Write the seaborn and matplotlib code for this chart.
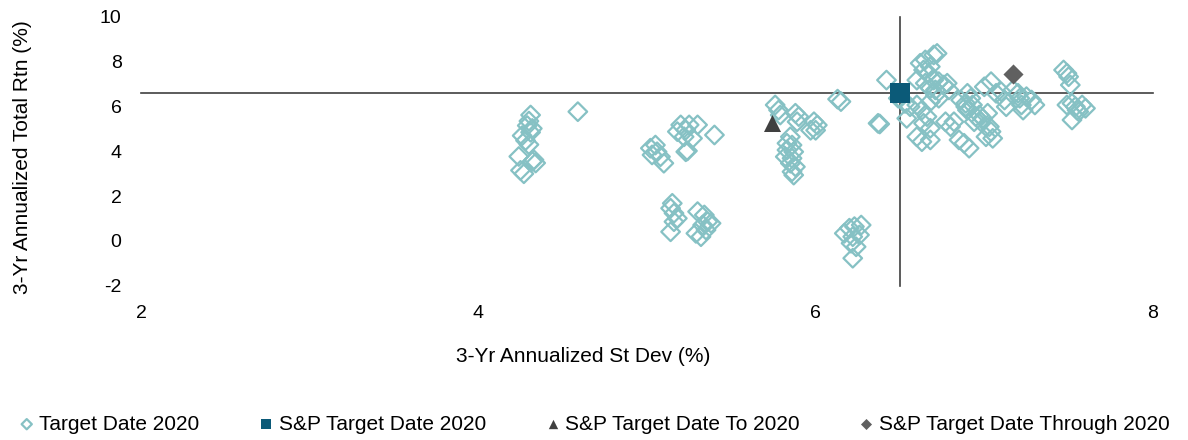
import matplotlib
matplotlib.use("Agg")
import matplotlib.pyplot as plt
import seaborn as sns

# Target Date 2020 funds: 3-yr annualized st dev (%) and total return (%)
td_sd = [4.31, 4.30, 4.29, 4.32, 4.31, 4.26, 4.28, 4.30, 4.24, 4.33, 4.34, 4.32, 4.25, 4.27,
         4.59,
         5.02, 5.05, 5.06, 5.03, 5.08, 5.10, 5.20, 5.25, 5.23, 5.18, 5.22, 5.27, 5.23, 5.24, 5.30, 5.40,
         5.15, 5.14, 5.16, 5.18, 5.16, 5.14, 5.30, 5.34, 5.36, 5.33, 5.29, 5.32, 5.35, 5.38,
         5.76, 5.78, 5.79, 5.88, 5.90, 5.89, 5.99, 6.01, 6.00, 5.97, 5.85, 5.83, 5.86, 5.83, 5.87,
         5.82, 5.86, 5.85, 5.88, 5.86, 5.87,
         6.17, 6.20, 6.23, 6.27, 6.22, 6.26, 6.21, 6.24, 6.22,
         6.13, 6.15, 6.37, 6.38, 6.42,
         6.62, 6.65, 6.70, 6.72, 6.68, 6.64, 6.67,
         6.60, 6.65, 6.70, 6.73, 6.76, 6.68, 6.71, 6.79, 6.78,
         6.49, 6.53, 6.56, 6.60, 6.63, 6.54, 6.66, 6.64, 6.68, 6.60, 6.68, 6.63, 6.77, 6.80, 6.82,
         6.85, 6.88, 6.86, 6.89, 6.93, 6.90, 6.97, 6.94, 6.71, 6.73, 6.68,
         6.90, 6.92, 6.89, 6.95, 6.99, 6.98, 7.02, 7.03, 7.04, 7.05, 7.01, 6.91, 7.00, 7.04, 7.07,
         7.10, 7.12, 7.13, 7.17, 7.20, 7.21, 7.22, 7.25, 7.28, 7.30, 7.23,
         7.47, 7.49, 7.50, 7.51, 7.49, 7.52, 7.54, 7.56, 7.58, 7.52, 7.60, 7.55]
td_ret = [5.62, 5.35, 5.15, 5.02, 4.85, 4.70, 4.48, 4.30, 3.77, 3.62, 3.48, 3.55, 3.15, 3.00,
          5.77,
          4.14, 4.28, 3.98, 3.84, 3.76, 3.47, 5.18, 5.18, 4.95, 4.88, 4.65, 4.58, 3.98, 4.02, 5.18, 4.73,
          1.68, 1.46, 1.24, 1.01, 0.86, 0.41, 1.31, 1.16, 0.86, 0.71, 0.34, 0.19, 0.49, 0.79,
          6.07, 5.84, 5.62, 5.70, 5.55, 5.32, 5.32, 5.17, 4.94, 4.94, 4.65, 4.36, 4.28, 4.06, 3.98,
          3.76, 3.69, 3.47, 3.31, 3.09, 2.94,
          0.34, 0.57, 0.64, 0.71, 0.19, 0.27, -0.10, -0.26, -0.77,
          6.33, 6.22, 5.25, 5.22, 7.18,
          7.93, 8.08, 8.30, 8.37, 7.78, 7.63, 7.48,
          7.18, 7.04, 7.18, 7.11, 6.96, 6.81, 6.74, 6.74, 7.04,
          6.37, 6.14, 5.99, 6.07, 5.84, 5.47, 5.55, 5.25, 5.03, 4.65, 4.51, 4.43, 5.32, 5.10, 5.32,
          4.51, 4.36, 6.29, 6.14, 6.07, 5.84, 5.62, 5.32, 6.51, 6.37, 6.22,
          6.59, 6.37, 5.99, 5.55, 5.47, 5.32, 5.70, 5.10, 4.88, 4.58, 4.65, 4.14, 6.88, 7.11, 6.59,
          6.66, 6.29, 5.99, 6.74, 6.59, 6.37, 6.07, 6.44, 6.29, 6.07, 5.84,
          7.63, 7.48, 7.33, 6.96, 6.07, 6.14, 5.99, 5.77, 6.07, 5.40, 5.92, 5.84]

# benchmarks
sp_sd = [6.50]
sp_ret = [6.59]
sp_to_sd = [5.74]
sp_to_ret = [5.26]
sp_thru_sd = [7.17]
sp_thru_ret = [7.44]

series_names = ["Target Date 2020", "S&P Target Date 2020",
                "S&P Target Date To 2020", "S&P Target Date Through 2020"]
x_ticks = [2, 4, 6, 8]
y_ticks = [-2, 0, 2, 4, 6, 8, 10]

sns.set_style("white")
plt.rcParams['font.family'] = ['Liberation Sans', 'DejaVu Sans']
plt.rcParams['axes.unicode_minus'] = False
plt.rcParams['text.color'] = 'black'
plt.rcParams['axes.labelcolor'] = 'black'
plt.rcParams['xtick.color'] = 'black'
plt.rcParams['ytick.color'] = 'black'

fig = plt.figure(figsize=(11.88, 4.4), dpi=100)
ax = fig.add_axes([0.1187, 0.3505, 0.8518, 0.6111])

sns.scatterplot(x=td_sd, y=td_ret, marker='D', s=90, facecolor='none',
                edgecolor='#86C1C4', linewidth=1.6, label=series_names[0],
                legend=False, zorder=3, ax=ax)
sns.scatterplot(x=sp_sd, y=sp_ret, marker='s', s=190, color='#0B5A78',
                linewidth=0, label=series_names[1], legend=False, zorder=4, ax=ax)
sns.scatterplot(x=sp_to_sd, y=sp_to_ret, marker='^', s=150, color='#404040',
                linewidth=0, label=series_names[2], legend=False, zorder=4, ax=ax)
sns.scatterplot(x=sp_thru_sd, y=sp_thru_ret, marker='D', s=105, color='#606060',
                linewidth=0, label=series_names[3], legend=False, zorder=4, ax=ax)

ax.set_xlim(2, 8)
ax.set_ylim(-2, 10)
ax.set_xticks(x_ticks)
ax.set_yticks(y_ticks)

# axes cross at the S&P Target Date 2020 point
for side in ['top', 'right']:
    ax.spines[side].set_visible(False)
ax.spines['bottom'].set_position(('data', sp_ret[0]))
ax.spines['left'].set_position(('data', sp_sd[0]))
for side in ['bottom', 'left']:
    ax.spines[side].set_color('#404040')
    ax.spines[side].set_linewidth(1.2)
ax.tick_params(direction='out', length=5, width=1.2, color='#404040',
               labelbottom=False, labelleft=False)

# tick labels stay on the chart edges
secx = ax.secondary_xaxis('bottom')
secx.set_xticks(x_ticks)
secx.spines['bottom'].set_visible(False)
secx.tick_params(length=0, pad=14, labelsize=14)
secx.set_xlabel("3-Yr Annualized St Dev (%)", fontsize=15)
secx.xaxis.set_label_coords(0.437, -0.228, transform=ax.transAxes)

secy = ax.secondary_yaxis('left')
secy.set_yticks(y_ticks)
secy.spines['left'].set_visible(False)
secy.tick_params(length=0, pad=14, labelsize=14)
secy.set_ylabel("3-Yr Annualized Total Rtn (%)", fontsize=15)
secy.yaxis.set_label_coords(-0.108, 0.479, transform=ax.transAxes)

handles, labels = ax.get_legend_handles_labels()
fig.legend(handles, labels, loc='center', bbox_to_anchor=(0.5, 0.036), ncol=4,
           frameon=False, fontsize=15, markerscale=0.55, handletextpad=0.2,
           handlelength=0.8, columnspacing=2.8)

fig.savefig('out.png', dpi=100)
